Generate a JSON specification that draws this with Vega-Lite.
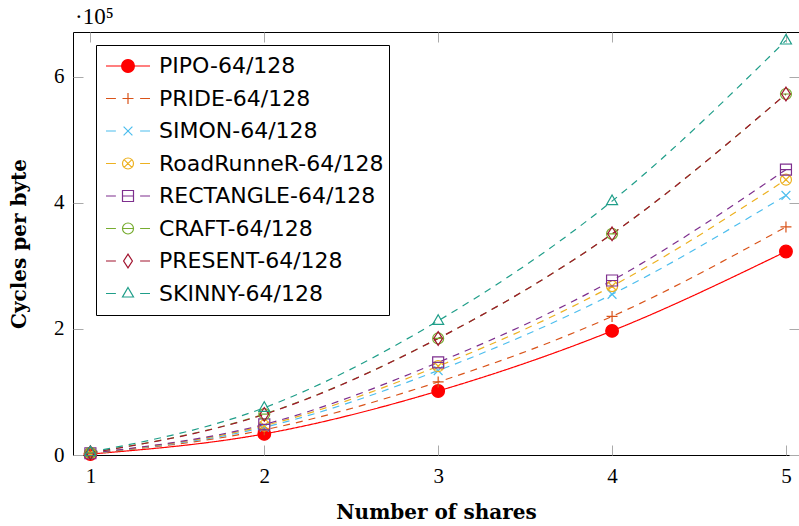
{
  "$schema": "https://vega.github.io/schema/vega-lite/v6.json",
  "width": 726,
  "height": 423,
  "autosize": {"type": "none"},
  "padding": {"left": 73, "top": 32, "right": 0, "bottom": 71},
  "background": "white",
  "title": {"text": "·10⁵", "anchor": "start", "frame": "group", "font": "Liberation Serif", "fontSize": 23, "fontWeight": "normal", "color": "black", "offset": 3, "dx": 2},
  "config": {
    "view": {"stroke": "black", "strokeWidth": 1},
    "axis": {"labelFont": "Liberation Serif", "labelFontSize": 21, "labelColor": "black", "tickColor": "#aaaaaa", "tickSize": -10, "tickWidth": 1, "domain": false, "grid": false, "titleFont": "DejaVu Serif", "titleFontWeight": "bold", "titleFontSize": 20, "titleColor": "black"},
    "legend": {"labelFont": "DejaVu Sans", "labelFontSize": 22, "labelColor": "black", "labelLimit": 400}
  },
  "data": {"values": [
    {"series": "PIPO-64/128", "shares": 1, "cycles": 1500},
    {"series": "PIPO-64/128", "shares": 2, "cycles": 33500},
    {"series": "PIPO-64/128", "shares": 3, "cycles": 101600},
    {"series": "PIPO-64/128", "shares": 4, "cycles": 197000},
    {"series": "PIPO-64/128", "shares": 5, "cycles": 323000},
    {"series": "PRIDE-64/128", "shares": 1, "cycles": 2000},
    {"series": "PRIDE-64/128", "shares": 2, "cycles": 40000},
    {"series": "PRIDE-64/128", "shares": 3, "cycles": 116000},
    {"series": "PRIDE-64/128", "shares": 4, "cycles": 220000},
    {"series": "PRIDE-64/128", "shares": 5, "cycles": 362000},
    {"series": "SIMON-64/128", "shares": 1, "cycles": 2500},
    {"series": "SIMON-64/128", "shares": 2, "cycles": 44000},
    {"series": "SIMON-64/128", "shares": 3, "cycles": 134000},
    {"series": "SIMON-64/128", "shares": 4, "cycles": 255000},
    {"series": "SIMON-64/128", "shares": 5, "cycles": 412000},
    {"series": "RoadRunneR-64/128", "shares": 1, "cycles": 2600},
    {"series": "RoadRunneR-64/128", "shares": 2, "cycles": 46500},
    {"series": "RoadRunneR-64/128", "shares": 3, "cycles": 141000},
    {"series": "RoadRunneR-64/128", "shares": 4, "cycles": 268000},
    {"series": "RoadRunneR-64/128", "shares": 5, "cycles": 437000},
    {"series": "RECTANGLE-64/128", "shares": 1, "cycles": 2800},
    {"series": "RECTANGLE-64/128", "shares": 2, "cycles": 48500},
    {"series": "RECTANGLE-64/128", "shares": 3, "cycles": 147000},
    {"series": "RECTANGLE-64/128", "shares": 4, "cycles": 277000},
    {"series": "RECTANGLE-64/128", "shares": 5, "cycles": 453000},
    {"series": "CRAFT-64/128", "shares": 1, "cycles": 3500},
    {"series": "CRAFT-64/128", "shares": 2, "cycles": 65000},
    {"series": "CRAFT-64/128", "shares": 3, "cycles": 185000},
    {"series": "CRAFT-64/128", "shares": 4, "cycles": 351000},
    {"series": "CRAFT-64/128", "shares": 5, "cycles": 573000},
    {"series": "PRESENT-64/128", "shares": 1, "cycles": 3500},
    {"series": "PRESENT-64/128", "shares": 2, "cycles": 64500},
    {"series": "PRESENT-64/128", "shares": 3, "cycles": 185000},
    {"series": "PRESENT-64/128", "shares": 4, "cycles": 351000},
    {"series": "PRESENT-64/128", "shares": 5, "cycles": 573000},
    {"series": "SKINNY-64/128", "shares": 1, "cycles": 4500},
    {"series": "SKINNY-64/128", "shares": 2, "cycles": 75000},
    {"series": "SKINNY-64/128", "shares": 3, "cycles": 213000},
    {"series": "SKINNY-64/128", "shares": 4, "cycles": 403000},
    {"series": "SKINNY-64/128", "shares": 5, "cycles": 658000}
  ]},
  "resolve": {"scale": {"color": "independent", "shape": "independent", "strokeDash": "independent", "fill": "independent"}},
  "layer": [
    {
      "mark": {"type": "line", "interpolate": "monotone", "strokeWidth": 1.2, "clip": true},
      "encoding": {
        "x": {"field": "shares", "type": "quantitative", "scale": {"domain": [0.9, 5.075], "nice": false, "zero": false}, "axis": {"orient": "bottom", "values": [1, 2, 3, 4, 5], "title": "Number of shares", "labelPadding": 20, "titlePadding": 16}},
        "y": {"field": "cycles", "type": "quantitative", "scale": {"domain": [0, 671400], "nice": false}, "axis": {"orient": "left", "values": [0, 200000, 400000, 600000], "labelExpr": "format(datum.value / 100000, 'd')", "title": "Cycles per byte", "labelPadding": 19, "titlePadding": 24}},
        "color": {"field": "series", "type": "nominal", "legend": null, "sort": null, "scale": {"domain": ["PIPO-64/128", "PRIDE-64/128", "SIMON-64/128", "RoadRunneR-64/128", "RECTANGLE-64/128", "CRAFT-64/128", "PRESENT-64/128", "SKINNY-64/128"], "range": ["#ff0000", "#d95319", "#4dbeee", "#edb120", "#7e2f8e", "#77ac30", "#a2142f", "#1f9e89"]}},
        "strokeDash": {"field": "series", "type": "nominal", "legend": null, "sort": null, "scale": {"domain": ["PIPO-64/128", "PRIDE-64/128", "SIMON-64/128", "RoadRunneR-64/128", "RECTANGLE-64/128", "CRAFT-64/128", "PRESENT-64/128", "SKINNY-64/128"], "range": [[1, 0], [7, 6], [7, 6], [7, 6], [7, 6], [7, 6], [7, 6], [7, 6]]}}
      }
    },
    {
      "mark": {"type": "point", "filled": false, "size": 121, "strokeWidth": 1.2, "opacity": 1},
      "encoding": {
        "x": {"field": "shares", "type": "quantitative", "axis": null},
        "y": {"field": "cycles", "type": "quantitative", "axis": null},
        "color": {"field": "series", "type": "nominal", "legend": null, "sort": null, "scale": {"domain": ["PIPO-64/128", "PRIDE-64/128", "SIMON-64/128", "RoadRunneR-64/128", "RECTANGLE-64/128", "CRAFT-64/128", "PRESENT-64/128", "SKINNY-64/128"], "range": ["#ff0000", "#d95319", "#4dbeee", "#edb120", "#7e2f8e", "#77ac30", "#a2142f", "#1f9e89"]}},
        "fill": {"condition": {"test": "datum.series === 'PIPO-64/128'", "value": "#ff0000"}, "value": "transparent"},
        "shape": {"field": "series", "type": "nominal", "legend": null, "sort": null, "scale": {"domain": ["PIPO-64/128", "PRIDE-64/128", "SIMON-64/128", "RoadRunneR-64/128", "RECTANGLE-64/128", "CRAFT-64/128", "PRESENT-64/128", "SKINNY-64/128"], "range": [
          "M -1.15 0 A 1.15 1.15 0 1 0 1.15 0 A 1.15 1.15 0 1 0 -1.15 0 Z",
          "M -1 0 L 1 0 M 0 -1 L 0 1",
          "M -0.8 -0.8 L 0.8 0.8 M -0.8 0.8 L 0.8 -0.8",
          "M -1 0 A 1 1 0 1 0 1 0 A 1 1 0 1 0 -1 0 Z M -0.707 -0.707 L 0.707 0.707 M -0.707 0.707 L 0.707 -0.707",
          "M -1 -1 L 1 -1 L 1 1 L -1 1 Z M -1 0 L 1 0",
          "M -1 0 A 1 1 0 1 0 1 0 A 1 1 0 1 0 -1 0 Z M -1 0 L 1 0",
          "M 0 -1.25 L 0.8 0 L 0 1.25 L -0.8 0 Z",
          "M 0 -1.1 L 1 0.65 L -1 0.65 Z"
        ]}}
      }
    },
    {
      "mark": {"type": "point", "filled": false, "opacity": 0},
      "encoding": {
        "x": {"field": "shares", "type": "quantitative", "axis": {"orient": "top", "values": [1, 2, 3, 4, 5], "labels": false, "title": null}},
        "y": {"field": "cycles", "type": "quantitative", "axis": {"orient": "right", "values": [0, 200000, 400000, 600000], "labels": false, "title": null}},
        "color": {"field": "series", "type": "nominal", "sort": null, "scale": {"domain": ["PIPO-64/128", "PRIDE-64/128", "SIMON-64/128", "RoadRunneR-64/128", "RECTANGLE-64/128", "CRAFT-64/128", "PRESENT-64/128", "SKINNY-64/128"], "range": ["#ff0000", "#d95319", "#4dbeee", "#edb120", "#7e2f8e", "#77ac30", "#a2142f", "#1f9e89"]},
          "legend": {"title": null, "orient": "none", "legendX": 23, "legendY": 13, "padding": 5, "symbolOffset": 4, "labelOffset": 8, "symbolSize": 1936, "symbolStrokeWidth": 1.2, "symbolOpacity": 1, "clipHeight": 32, "rowPadding": 0.5, "strokeColor": "black", "fillColor": "white", "cornerRadius": 0}},
        "fill": {"field": "series", "type": "nominal", "sort": null, "scale": {"domain": ["PIPO-64/128", "PRIDE-64/128", "SIMON-64/128", "RoadRunneR-64/128", "RECTANGLE-64/128", "CRAFT-64/128", "PRESENT-64/128", "SKINNY-64/128"], "range": ["#ff0000", "transparent", "transparent", "transparent", "transparent", "transparent", "transparent", "transparent"]},
          "legend": {"title": null, "orient": "none", "legendX": 23, "legendY": 13, "padding": 5, "symbolOffset": 4, "labelOffset": 8, "symbolSize": 1936, "symbolStrokeWidth": 1.2, "symbolOpacity": 1, "clipHeight": 32, "rowPadding": 0.5, "strokeColor": "black", "fillColor": "white", "cornerRadius": 0}},
        "shape": {"field": "series", "type": "nominal", "sort": null, "scale": {"domain": ["PIPO-64/128", "PRIDE-64/128", "SIMON-64/128", "RoadRunneR-64/128", "RECTANGLE-64/128", "CRAFT-64/128", "PRESENT-64/128", "SKINNY-64/128"], "range": [
          "M -1 0 L 1 0 M -0.29 0 A 0.29 0.29 0 1 0 0.29 0 A 0.29 0.29 0 1 0 -0.29 0 Z",
          "M -1 0 L -0.55 0 M 0.55 0 L 1 0 M -0.25 0 L 0.25 0 M 0 -0.25 L 0 0.25",
          "M -1 0 L -0.55 0 M 0.55 0 L 1 0 M -0.2 -0.2 L 0.2 0.2 M -0.2 0.2 L 0.2 -0.2",
          "M -1 0 L -0.55 0 M 0.55 0 L 1 0 M -0.25 0 A 0.25 0.25 0 1 0 0.25 0 A 0.25 0.25 0 1 0 -0.25 0 Z M -0.177 -0.177 L 0.177 0.177 M -0.177 0.177 L 0.177 -0.177",
          "M -1 0 L -0.55 0 M 0.55 0 L 1 0 M -0.25 -0.25 L 0.25 -0.25 L 0.25 0.25 L -0.25 0.25 Z M -0.25 0 L 0.25 0",
          "M -1 0 L -0.55 0 M 0.55 0 L 1 0 M -0.25 0 A 0.25 0.25 0 1 0 0.25 0 A 0.25 0.25 0 1 0 -0.25 0 Z M -0.25 0 L 0.25 0",
          "M -1 0 L -0.55 0 M 0.55 0 L 1 0 M 0 -0.31 L 0.2 0 L 0 0.31 L -0.2 0 Z",
          "M -1 0 L -0.55 0 M 0.55 0 L 1 0 M 0 -0.275 L 0.25 0.16 L -0.25 0.16 Z"
        ]},
          "legend": {"title": null, "orient": "none", "legendX": 23, "legendY": 13, "padding": 5, "symbolOffset": 4, "labelOffset": 8, "symbolSize": 1936, "symbolStrokeWidth": 1.2, "symbolOpacity": 1, "clipHeight": 32, "rowPadding": 0.5, "strokeColor": "black", "fillColor": "white", "cornerRadius": 0}}
      }
    }
  ]
}
